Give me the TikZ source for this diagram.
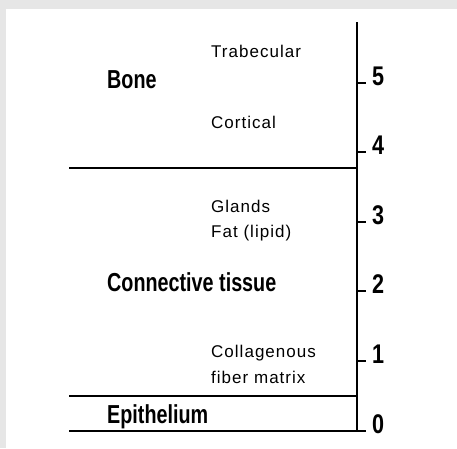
\documentclass[tikz,border=0pt]{standalone}
\usepackage{fontspec}
\setmainfont{Liberation Sans}
\newfontfamily\headfont[FakeStretch=0.76]{Liberation Sans}
\newfontfamily\digitfont[FakeStretch=0.8]{Liberation Sans}
\newfontfamily\notefont[LetterSpace=6]{Liberation Sans}
\definecolor{panelgray}{RGB}{230,230,230}
\tikzset{
  layer/.style={font=\headfont\bfseries\fontsize{26}{26}\selectfont, anchor=base west, inner sep=0pt},
  note/.style={font=\notefont\fontsize{17}{17}\selectfont, anchor=base west, inner sep=0pt},
  depth/.style={font=\digitfont\bfseries\fontsize{27}{27}\selectfont, anchor=base west, inner sep=0pt},
  rule/.style={line width=1.2pt}
}
\begin{document}
\begin{tikzpicture}[x=1pt,y=-1pt]
    \fill[panelgray] (0,0) rectangle (457,448);
    \fill[white] (6,9) rectangle (457,448);
    \useasboundingbox (0,0) rectangle (457,448);
    \coordinate (top) at (357,22);
    \coordinate (base) at (357,431);
    \draw[rule] (top) -- (base);
    \foreach \y/\num in {431/0, 361/1, 291/2, 222/3, 152/4, 83/5} {
        \draw[rule] (357,\y) -- (366,\y);
        \node[depth] (d\num) at (372,\y+2) {\num};
    }
    \draw[rule] (69,168) -- (357,168);
    \draw[rule] (69,396) -- (357,396);
    \draw[rule] (69,431) -- (base);
    \node[layer] (bone) at (107,88) {Bone};
    \node[layer] (conn) at (107,291) {Connective tissue};
    \node[layer] (epi) at (107,423) {Epithelium};
    \node[note] (trab) at (211,57) {Trabecular};
    \node[note] (cort) at (211,128) {Cortical};
    \node[note] (glands) at (211,212) {Glands};
    \node[note] (fat) at (211,237) {Fat (lipid)};
    \node[note] (coll) at (211,357) {Collagenous};
    \node[note] (fiber) at (211,383) {fiber matrix};
\end{tikzpicture}
\end{document}
